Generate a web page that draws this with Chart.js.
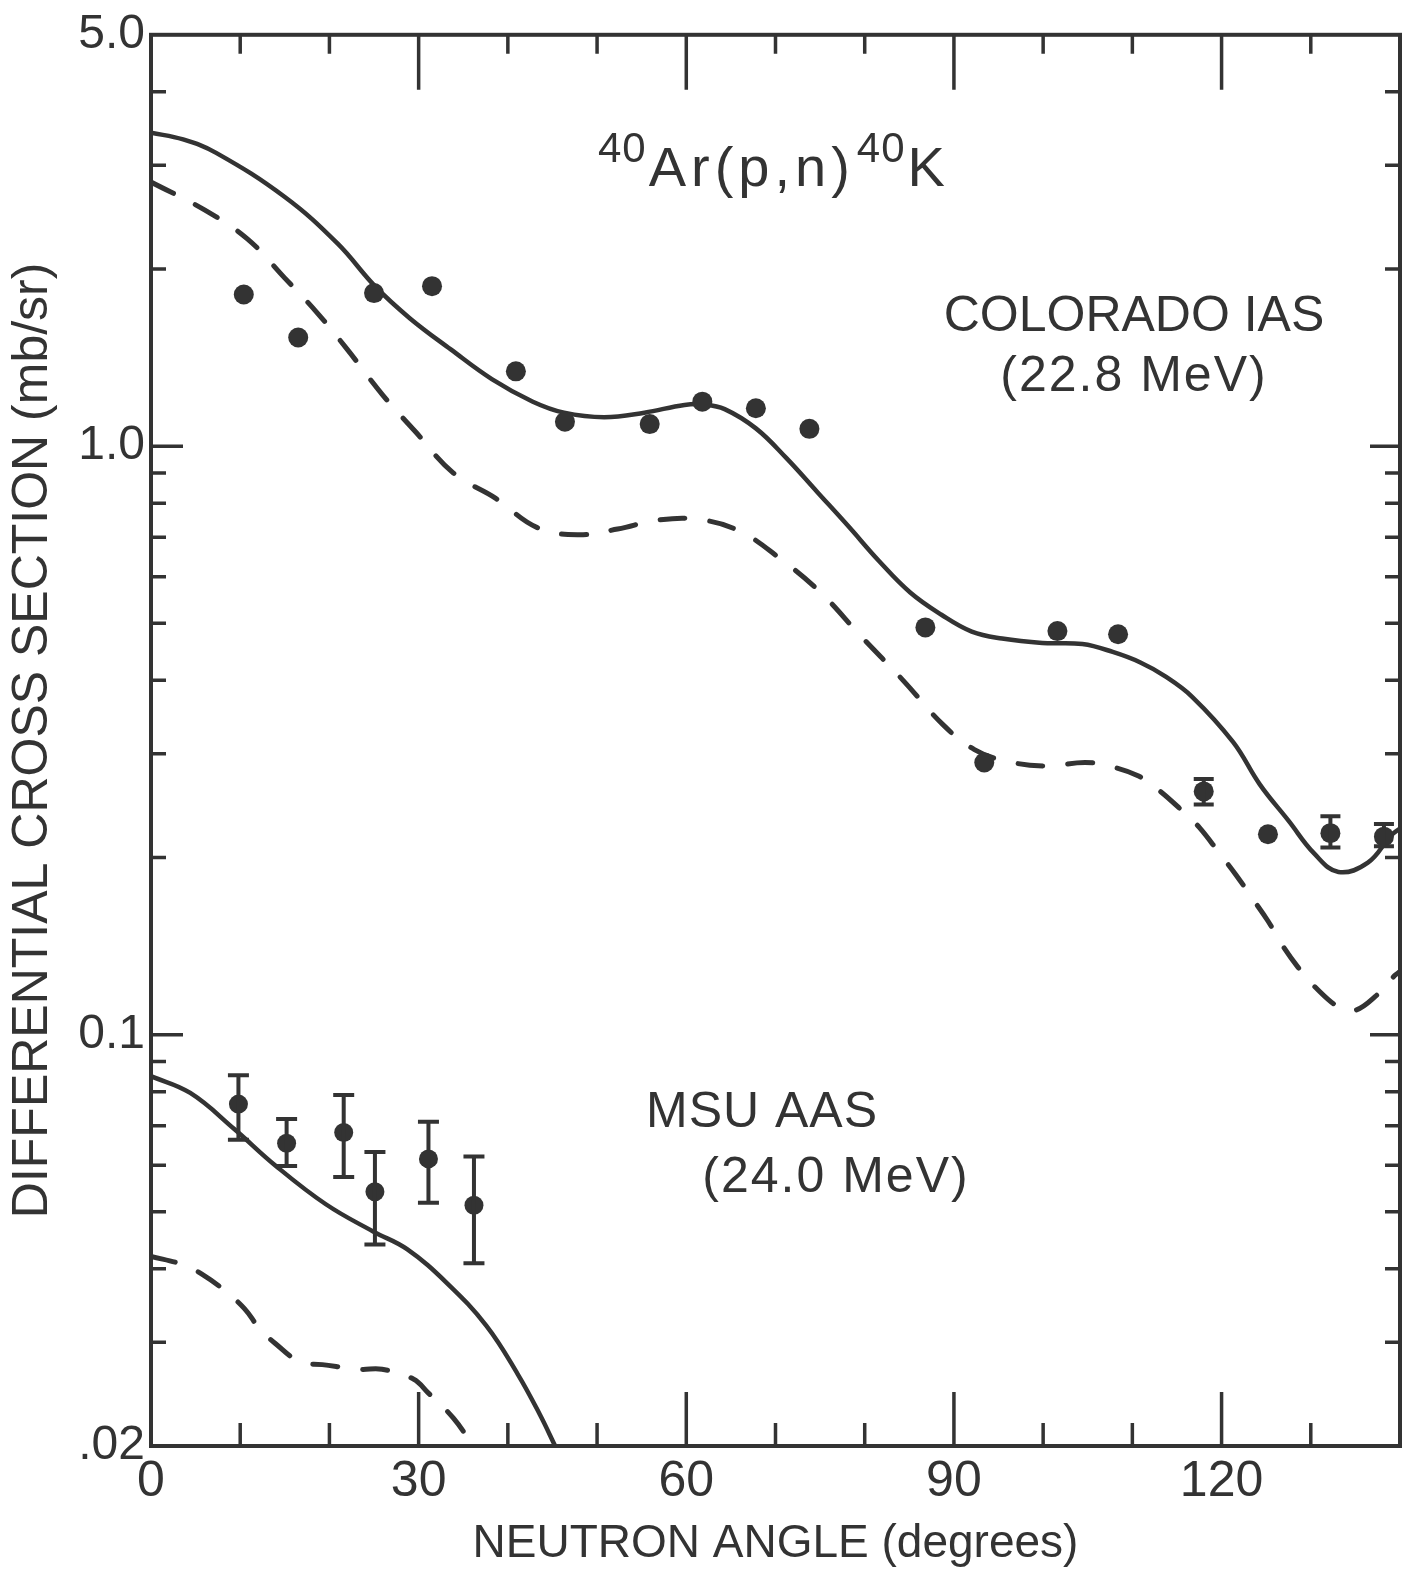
<!DOCTYPE html>
<html>
<head>
<meta charset="utf-8">
<script src="https://cdn.jsdelivr.net/npm/chart.js@4.4.1/dist/chart.umd.min.js"></script>
<style>
  html, body { margin: 0; padding: 0; background: #ffffff; }
  canvas { display: block; }
</style>
</head>
<body>
<canvas id="c" width="1422" height="1572"></canvas>
<script>
// ---------------- data ----------------
const xTickValues = [0, 30, 60, 90, 120];
const xTickLabels = ['0', '30', '60', '90', '120'];
const xMinorTickValues = [10, 20, 40, 50, 70, 80, 100, 110, 130];
const yTickValues = [0.02, 0.1, 1, 5];
const yTickLabels = ['.02', '0.1', '1.0', '5.0'];
const yMajorTickValues = [1, 0.1];
const yMinorTickValues = [4, 3, 2, 0.9, 0.8, 0.7, 0.6, 0.5, 0.4, 0.3, 0.2,
                          0.09, 0.08, 0.07, 0.06, 0.05, 0.04, 0.03];

// Colorado IAS (22.8 MeV) measured points
const coloradoAngles = [10.4, 16.5, 25.0, 31.5, 40.9, 46.4, 55.9, 61.8, 67.8, 73.8,
                        86.8, 93.4, 101.6, 108.4, 118.0, 125.2, 132.2, 138.2];
const coloradoValues = [1.81, 1.53, 1.82, 1.87, 1.34, 1.10, 1.09, 1.19, 1.16, 1.07,
                        0.492, 0.290, 0.485, 0.479, 0.259, 0.219, 0.220, 0.217];
const coloradoErrLow  = [null, null, null, null, null, null, null, null, null, null,
                         null, null, null, null, 0.246, null, 0.208, 0.209];
const coloradoErrHigh = [null, null, null, null, null, null, null, null, null, null,
                         null, null, null, null, 0.272, null, 0.235, 0.228];

// Colorado calculations (solid and dashed curves)
const coloradoSolidAngles = [0, 3.6, 7.3, 15.0, 20.9, 25.1, 29.0, 33.6, 38.2, 42.8,
                             46.3, 50.8, 55.3, 59.8, 62.0, 64.3, 67.8, 71.2, 74.7, 78.2,
                             81.6, 85.1, 88.6, 92.0, 95.4, 99.9, 104.4, 107.8, 110.9, 113.6,
                             116.7, 121.3, 124.3, 127.5, 130.4, 133.1, 136.4, 139.0, 140];
const coloradoSolidValues = [3.41, 3.32, 3.15, 2.65, 2.21, 1.87, 1.65, 1.46, 1.30, 1.19,
                             1.14, 1.12, 1.14, 1.175, 1.177, 1.156, 1.072, 0.955, 0.835, 0.730,
                             0.638, 0.564, 0.517, 0.484, 0.471, 0.463, 0.461, 0.447, 0.429, 0.407,
                             0.375, 0.314, 0.266, 0.231, 0.203, 0.189, 0.196, 0.218, 0.224];
const coloradoDashAngles = [0, 6.0, 10.8, 15.0, 18.7, 22.0, 26.0, 29.6, 33.9, 38.6,
                            43.3, 47.8, 52.3, 56.8, 61.3, 65.9, 70.4, 75.0, 79.6, 84.3,
                            88.8, 92.3, 95.7, 100.2, 104.7, 107.4, 110.7, 113.0, 115.6, 117.5,
                            119.8, 121.6, 123.5, 125.2, 126.8, 128.6, 130.6, 133.3, 135.0, 137.2,
                            139.4, 140];
const coloradoDashValues = [2.81, 2.52, 2.25, 1.93, 1.68, 1.46, 1.22, 1.06, 0.90, 0.816,
                            0.727, 0.707, 0.723, 0.749, 0.751, 0.718, 0.646, 0.565, 0.475, 0.400,
                            0.336, 0.305, 0.292, 0.286, 0.290, 0.286, 0.275, 0.260, 0.240, 0.225,
                            0.203, 0.187, 0.170, 0.156, 0.142, 0.130, 0.120, 0.111, 0.110, 0.116,
                            0.126, 0.128];

// MSU AAS (24.0 MeV) measured points
const msuAngles  = [9.8, 15.2, 21.6, 25.1, 31.1, 36.2];
const msuValues  = [0.0762, 0.0654, 0.0682, 0.0541, 0.0615, 0.0513];
const msuErrLow  = [0.0663, 0.0598, 0.0573, 0.0440, 0.0518, 0.0409];
const msuErrHigh = [0.0853, 0.0719, 0.0790, 0.0632, 0.0711, 0.0621];

// MSU calculations
const msuSolidAngles = [0, 4.4, 9.3, 13.9, 19.6, 24.9, 28.7, 33.2, 37.6, 41.1, 43.6, 45.3];
const msuSolidValues = [0.085, 0.0796, 0.0692, 0.0600, 0.0515, 0.0463, 0.0432, 0.0378,
                        0.0320, 0.0265, 0.0226, 0.0200];
const msuDashAngles = [0, 3.5, 5.7, 8.2, 10.5, 12.2, 13.9, 16.7, 19.2, 23.4, 25.9, 29.4,
                       31.1, 33.9, 36.1];
const msuDashValues = [0.0420, 0.0407, 0.0392, 0.0368, 0.0342, 0.0316, 0.0299, 0.0278,
                       0.0275, 0.0270, 0.0270, 0.0260, 0.0246, 0.0223, 0.0200];

const xTitle = 'NEUTRON ANGLE (degrees)';
const yTitle = 'DIFFERENTIAL CROSS SECTION (mb/sr)';

// ---------------- styling ----------------
const INK = '#333333';
const FONT = "'Liberation Sans', 'DejaVu Sans', Arial, sans-serif";

function toPoints(xs, ys) { return xs.map((x, i) => ({ x: x, y: ys[i] })); }

const lineStyle = {
  showLine: true, pointRadius: 0, pointHoverRadius: 0, borderColor: INK,
  borderWidth: 4.5, tension: 0.4, fill: false
};

// frame and inward tick marks, drawn from the chart's scales
const frameTicks = {
  id: 'frameTicks',
  afterDatasetsDraw(chart) {
    const { ctx, chartArea: a, scales } = chart;
    const x = scales.x, y = scales.y;
    ctx.save();
    ctx.strokeStyle = INK;
    ctx.lineWidth = 4;
    ctx.strokeRect(a.left, a.top, a.right - a.left, a.bottom - a.top);
    ctx.lineWidth = 3.5;
    const vTick = (v, lenB, lenT) => {
      const px = x.getPixelForValue(v);
      ctx.beginPath();
      ctx.moveTo(px, a.bottom); ctx.lineTo(px, a.bottom - lenB);
      ctx.moveTo(px, a.top); ctx.lineTo(px, a.top + lenT);
      ctx.stroke();
    };
    xMinorTickValues.forEach(v => vTick(v, 23, 19));
    xTickValues.filter(v => v > 0).forEach(v => vTick(v, 54, 55));
    const hTick = (v, lenL, lenR) => {
      const py = y.getPixelForValue(v);
      ctx.beginPath();
      ctx.moveTo(a.left, py); ctx.lineTo(a.left + lenL, py);
      ctx.moveTo(a.right, py); ctx.lineTo(a.right - lenR, py);
      ctx.stroke();
    };
    yMinorTickValues.forEach(v => hTick(v, 15, 15));
    yMajorTickValues.forEach(v => hTick(v, 32, 30));
    ctx.restore();
  }
};

// vertical error bars with caps, drawn through the scales
const errorBars = {
  id: 'errorBars',
  afterDatasetsDraw(chart) {
    const { ctx, scales } = chart;
    const x = scales.x, y = scales.y;
    ctx.save();
    ctx.strokeStyle = INK;
    ctx.lineWidth = 4;
    chart.data.datasets.forEach(ds => {
      if (!ds.errLow) return;
      ds.data.forEach((p, i) => {
        const lo = ds.errLow[i], hi = ds.errHigh[i];
        if (lo == null || hi == null) return;
        const px = x.getPixelForValue(p.x);
        const pLo = y.getPixelForValue(lo), pHi = y.getPixelForValue(hi);
        const half = ds.capHalf;
        ctx.beginPath();
        ctx.moveTo(px, pLo); ctx.lineTo(px, pHi);
        ctx.moveTo(px - half, pLo); ctx.lineTo(px + half, pLo);
        ctx.moveTo(px - half, pHi); ctx.lineTo(px + half, pHi);
        ctx.stroke();
      });
    });
    ctx.restore();
  }
};

// text labels inside the plot
const annotations = {
  id: 'annotations',
  afterDraw(chart) {
    const ctx = chart.ctx;
    ctx.save();
    ctx.fillStyle = INK;
    ctx.textBaseline = 'alphabetic';
    // reaction title: 40Ar(p,n)40K
    let cx = 598;
    const base = 186, supBase = 162;
    ctx.textAlign = 'left';
    ctx.font = '42px ' + FONT;
    ctx.letterSpacing = '1px';
    ctx.fillText('40', cx, supBase);
    cx += ctx.measureText('40').width + 2;
    ctx.font = '56px ' + FONT;
    ctx.letterSpacing = '5px';
    ctx.fillText('Ar(p,n)', cx, base);
    cx += ctx.measureText('Ar(p,n)').width + 2;
    ctx.font = '42px ' + FONT;
    ctx.letterSpacing = '1px';
    ctx.fillText('40', cx, supBase);
    cx += ctx.measureText('40').width + 2;
    ctx.font = '56px ' + FONT;
    ctx.letterSpacing = '0px';
    ctx.fillText('K', cx, base);

    ctx.textAlign = 'center';
    ctx.font = '50px ' + FONT;
    ctx.letterSpacing = '0px';
    ctx.fillText('COLORADO IAS', 1134, 331);
    ctx.letterSpacing = '2px';
    ctx.fillText('(22.8 MeV)', 1134, 391);
    ctx.letterSpacing = '1px';
    ctx.fillText('MSU AAS', 762, 1127);
    ctx.letterSpacing = '2px';
    ctx.fillText('(24.0 MeV)', 836, 1192);
    ctx.restore();
  }
};

new Chart(document.getElementById('c'), {
  type: 'scatter',
  data: {
    datasets: [
      {
        label: 'Colorado IAS data',
        data: toPoints(coloradoAngles, coloradoValues),
        pointRadius: 10, pointHoverRadius: 10,
        pointBackgroundColor: INK, pointBorderColor: INK, pointBorderWidth: 0,
        errLow: coloradoErrLow, errHigh: coloradoErrHigh, capHalf: 10
      },
      {
        label: 'MSU AAS data',
        data: toPoints(msuAngles, msuValues),
        pointRadius: 9.5, pointHoverRadius: 9.5,
        pointBackgroundColor: INK, pointBorderColor: INK, pointBorderWidth: 0,
        errLow: msuErrLow, errHigh: msuErrHigh, capHalf: 10.5
      },
      Object.assign({ label: 'Colorado calc (solid)', data: toPoints(coloradoSolidAngles, coloradoSolidValues) }, lineStyle),
      Object.assign({ label: 'Colorado calc (dashed)', data: toPoints(coloradoDashAngles, coloradoDashValues),
                      borderDash: [25, 25], borderCapStyle: 'round' }, lineStyle, { borderWidth: 5 }),
      Object.assign({ label: 'MSU calc (solid)', data: toPoints(msuSolidAngles, msuSolidValues) }, lineStyle),
      Object.assign({ label: 'MSU calc (dashed)', data: toPoints(msuDashAngles, msuDashValues),
                      borderDash: [25, 25], borderCapStyle: 'round' }, lineStyle, { borderWidth: 5 })
    ]
  },
  options: {
    responsive: false,
    devicePixelRatio: 1,
    animation: false,
    events: [],
    layout: { padding: { top: 31, right: 22, bottom: 0, left: 0 } },
    plugins: { legend: { display: false }, tooltip: { enabled: false } },
    scales: {
      x: {
        type: 'linear', position: 'bottom', min: 0, max: 140,
        grid: { display: false, drawTicks: false },
        border: { display: false },
        afterBuildTicks(scale) { scale.ticks = xTickValues.map(v => ({ value: v })); },
        afterFit(scale) { scale.height = 126; },
        ticks: {
          autoSkip: false, maxRotation: 0, padding: 6, color: INK,
          font: { family: FONT, size: 50 },
          callback: (v) => { const i = xTickValues.indexOf(v); return i >= 0 ? xTickLabels[i] : ''; }
        },
        title: {
          display: true, text: xTitle, color: INK,
          font: { family: FONT, size: 46 },
          padding: { top: 0, bottom: 0 }
        }
      },
      y: {
        type: 'logarithmic', position: 'left', min: 0.02, max: 5,
        grid: { display: false, drawTicks: false },
        border: { display: false },
        afterBuildTicks(scale) { scale.ticks = yTickValues.map(v => ({ value: v })); },
        afterFit(scale) { scale.width = 151; },
        ticks: {
          autoSkip: false, padding: 6, color: INK,
          font: { family: FONT, size: 48 },
          callback: (v) => { const i = yTickValues.findIndex(t => Math.abs(t - v) < 1e-9); return i >= 0 ? yTickLabels[i] : ''; }
        },
        title: {
          display: true, text: yTitle, color: INK,
          font: { family: FONT, size: 50 },
          padding: { top: 3, bottom: 0 }
        }
      }
    }
  },
  plugins: [frameTicks, errorBars, annotations]
});
</script>
</body>
</html>
